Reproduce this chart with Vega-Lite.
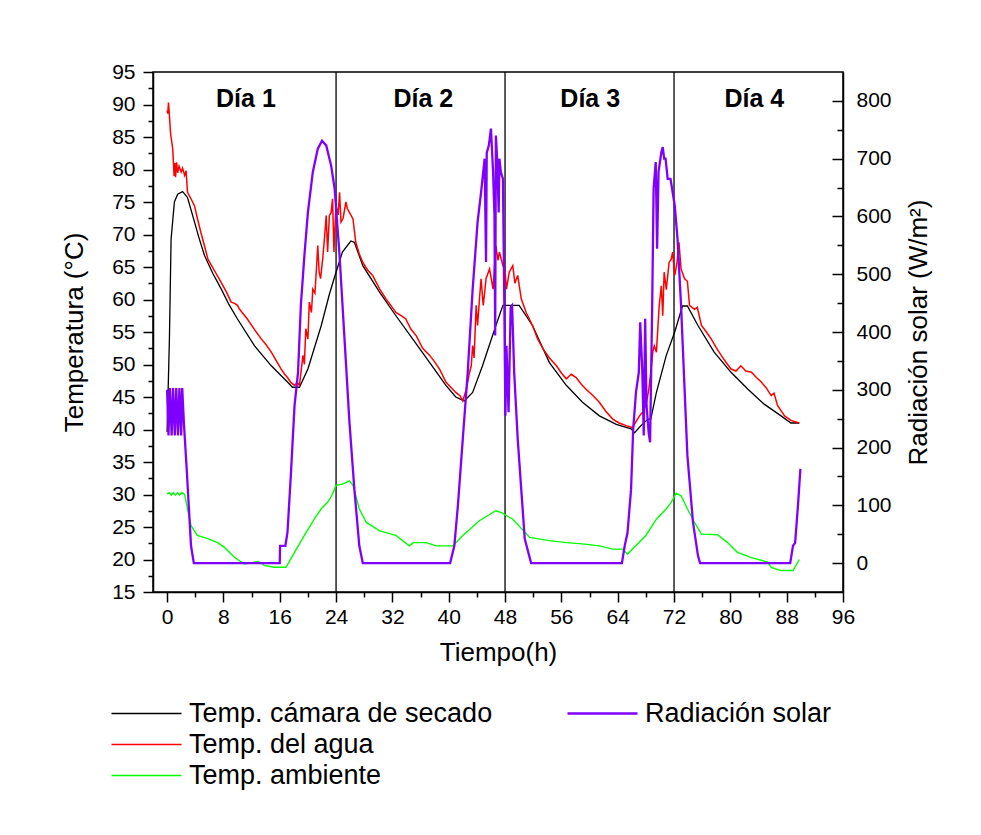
{
  "$schema": "https://vega.github.io/schema/vega-lite/v6.json",
  "width": 690,
  "height": 520,
  "autosize": {"type": "none"},
  "padding": {"left": 153, "top": 72, "right": 138, "bottom": 243},
  "background": "white",
  "config": {
    "font": "Liberation Sans",
    "view": {"stroke": "black", "strokeWidth": 1.5},
    "axis": {"grid": false, "domainColor": "black", "domainWidth": 1.5, "tickColor": "black", "tickWidth": 1.5, "labelColor": "black", "labelFontSize": 21, "labelFont": "Liberation Sans", "titleFont": "Liberation Sans", "titleFontSize": 26, "titleFontWeight": "normal", "titleColor": "black", "labelFlush": false, "labelOverlap": false},
    "legend": {"labelFont": "Liberation Sans", "labelFontSize": 27, "labelColor": "black", "labelLimit": 0, "padding": 0, "symbolType": "M-3.5,0H3.5", "symbolSize": 400, "labelOffset": 29, "rowPadding": 3}
  },
  "datasets": {
    "div": [{"h": 24}, {"h": 48}, {"h": 72}],
    "days": [{"h": 11.2, "v": 90.8, "t": "Día 1"}, {"h": 36.4, "v": 90.8, "t": "Día 2"}, {"h": 60.1, "v": 90.8, "t": "Día 3"}, {"h": 83.4, "v": 90.8, "t": "Día 4"}],
    "cam": [{"h":0,"v":39.6},{"h":0.33,"v":53.9},{"h":0.57,"v":69.3},{"h":1.04,"v":75},{"h":1.5,"v":76.2},{"h":2.2,"v":76.6},{"h":2.9,"v":75.7},{"h":3.9,"v":71.9},{"h":4.5,"v":69.6},{"h":5.3,"v":66.8},{"h":6.5,"v":64.0},{"h":7.7,"v":61.6},{"h":8.8,"v":59.2},{"h":10.0,"v":57.0},{"h":12.4,"v":52.9},{"h":14.8,"v":49.8},{"h":17.1,"v":47.3},{"h":17.8,"v":46.5},{"h":18.8,"v":46.5},{"h":20.0,"v":49.3},{"h":21.9,"v":56.0},{"h":23.05,"v":60.8},{"h":23.8,"v":63.5},{"h":24.9,"v":67.3},{"h":26.1,"v":69.0},{"h":26.6,"v":68.8},{"h":27.8,"v":65.2},{"h":30.2,"v":61.1},{"h":32.5,"v":57.5},{"h":34.9,"v":53.9},{"h":37.3,"v":50.3},{"h":39.6,"v":46.8},{"h":41.0,"v":45.0},{"h":42.2,"v":44.4},{"h":43.4,"v":45.7},{"h":44.8,"v":49.8},{"h":46.7,"v":56.0},{"h":47.7,"v":59.1},{"h":50.0,"v":59.1},{"h":51.9,"v":56.0},{"h":54.3,"v":50.3},{"h":56.7,"v":46.8},{"h":59.0,"v":44.2},{"h":61.4,"v":42.1},{"h":63.8,"v":40.8},{"h":65.9,"v":40.1},{"h":66.4,"v":39.5},{"h":67.3,"v":40.6},{"h":68.3,"v":41.6},{"h":68.7,"v":41.6},{"h":69.5,"v":45.7},{"h":70.9,"v":51.4},{"h":72.1,"v":55.0},{"h":73.2,"v":59.0},{"h":73.9,"v":59.0},{"h":75.4,"v":56.0},{"h":77.7,"v":51.9},{"h":80.1,"v":48.8},{"h":82.5,"v":46.2},{"h":84.8,"v":43.9},{"h":87.2,"v":42.1},{"h":88.6,"v":41.0},{"h":89.8,"v":41.0}],
    "agua": [{"h":0,"v":89.1},{"h":0.1,"v":88.6},{"h":0.2,"v":90.3},{"h":0.3,"v":88.8},{"h":0.5,"v":85.5},{"h":0.8,"v":83.2},{"h":1.0,"v":79.0},{"h":1.1,"v":81.0},{"h":1.2,"v":78.8},{"h":1.35,"v":81.1},{"h":1.5,"v":79.5},{"h":1.7,"v":80.5},{"h":2.0,"v":79.6},{"h":2.2,"v":80.2},{"h":2.5,"v":79.1},{"h":2.7,"v":79.8},{"h":2.9,"v":76.5},{"h":3.4,"v":75.5},{"h":3.9,"v":74.4},{"h":4.3,"v":72.5},{"h":4.8,"v":70.3},{"h":5.3,"v":68.3},{"h":5.8,"v":66.2},{"h":6.7,"v":64.5},{"h":7.7,"v":62.6},{"h":8.4,"v":61.2},{"h":9.1,"v":59.6},{"h":9.6,"v":59.4},{"h":10.0,"v":59.1},{"h":10.3,"v":58.5},{"h":11.4,"v":57.0},{"h":12.4,"v":55.4},{"h":13.4,"v":53.9},{"h":14.1,"v":53.0},{"h":14.8,"v":51.9},{"h":15.5,"v":50.6},{"h":16.2,"v":49.3},{"h":16.7,"v":48.5},{"h":17.1,"v":48.0},{"h":17.6,"v":47.2},{"h":18.1,"v":46.8},{"h":18.5,"v":47.2},{"h":18.8,"v":46.8},{"h":19.3,"v":51.4},{"h":19.5,"v":50.0},{"h":19.7,"v":55.5},{"h":20.0,"v":53.9},{"h":20.2,"v":59.6},{"h":20.5,"v":58.0},{"h":20.7,"v":61.6},{"h":21.0,"v":61.0},{"h":21.2,"v":64.5},{"h":21.4,"v":68.3},{"h":21.6,"v":64.2},{"h":21.8,"v":63.2},{"h":22.1,"v":66.2},{"h":22.4,"v":70.0},{"h":22.6,"v":72.9},{"h":22.8,"v":67.3},{"h":23.05,"v":72.9},{"h":23.3,"v":73.4},{"h":23.5,"v":75.5},{"h":23.7,"v":67.3},{"h":23.8,"v":70.3},{"h":24.0,"v":74.4},{"h":24.3,"v":73.0},{"h":24.5,"v":76.5},{"h":24.7,"v":71.9},{"h":25.0,"v":72.5},{"h":25.4,"v":75.0},{"h":25.6,"v":74.0},{"h":25.9,"v":73.4},{"h":26.4,"v":72.4},{"h":26.8,"v":68.8},{"h":27.3,"v":67.0},{"h":27.8,"v":65.7},{"h":28.5,"v":64.5},{"h":29.2,"v":63.7},{"h":30.2,"v":61.6},{"h":31.1,"v":60.1},{"h":32.5,"v":58.0},{"h":33.4,"v":57.4},{"h":33.9,"v":57.0},{"h":34.6,"v":55.5},{"h":35.4,"v":54.4},{"h":36.3,"v":52.5},{"h":37.3,"v":51.4},{"h":38.0,"v":50.4},{"h":38.7,"v":49.3},{"h":39.6,"v":47.3},{"h":40.3,"v":46.5},{"h":41.0,"v":45.7},{"h":41.6,"v":45.2},{"h":42.0,"v":44.4},{"h":42.5,"v":46.2},{"h":42.9,"v":48.5},{"h":43.2,"v":49.8},{"h":43.4,"v":52.9},{"h":43.6,"v":51.0},{"h":43.9,"v":59.1},{"h":44.1,"v":56.0},{"h":44.4,"v":60.5},{"h":44.6,"v":63.2},{"h":44.9,"v":59.1},{"h":45.1,"v":61.0},{"h":45.3,"v":63.2},{"h":45.8,"v":64.7},{"h":46.3,"v":61.6},{"h":46.5,"v":65.0},{"h":46.7,"v":68.3},{"h":47.0,"v":66.0},{"h":47.2,"v":67.3},{"h":47.7,"v":65.2},{"h":48.0,"v":64.5},{"h":48.2,"v":61.6},{"h":48.6,"v":64.2},{"h":49.1,"v":65.2},{"h":49.4,"v":62.5},{"h":49.8,"v":63.7},{"h":50.3,"v":60.1},{"h":51.0,"v":58.0},{"h":51.9,"v":56.0},{"h":52.6,"v":54.0},{"h":53.4,"v":52.4},{"h":54.3,"v":51.0},{"h":55.3,"v":49.8},{"h":56.0,"v":48.7},{"h":56.7,"v":47.8},{"h":57.4,"v":48.5},{"h":58.1,"v":48.0},{"h":58.8,"v":47.0},{"h":59.5,"v":46.2},{"h":60.4,"v":45.3},{"h":61.4,"v":44.2},{"h":62.3,"v":42.8},{"h":63.3,"v":41.6},{"h":64.2,"v":41.0},{"h":65.2,"v":40.6},{"h":66.1,"v":40.3},{"h":66.6,"v":41.2},{"h":67.1,"v":42.1},{"h":67.5,"v":42.6},{"h":68.0,"v":43.7},{"h":68.4,"v":46.0},{"h":68.7,"v":48.8},{"h":69.0,"v":52.0},{"h":69.2,"v":52.9},{"h":69.5,"v":51.9},{"h":69.9,"v":59.1},{"h":70.2,"v":62.1},{"h":70.4,"v":57.5},{"h":70.6,"v":64.2},{"h":70.9,"v":61.5},{"h":71.3,"v":65.7},{"h":71.6,"v":66.2},{"h":71.8,"v":67.3},{"h":72.1,"v":63.7},{"h":72.4,"v":65.5},{"h":72.7,"v":68.8},{"h":73.0,"v":64.7},{"h":73.5,"v":63.2},{"h":73.9,"v":62.8},{"h":74.2,"v":59.1},{"h":74.9,"v":58.5},{"h":75.3,"v":58.8},{"h":75.9,"v":56.0},{"h":76.6,"v":55.0},{"h":77.3,"v":53.9},{"h":78.0,"v":52.6},{"h":78.7,"v":51.4},{"h":79.4,"v":50.3},{"h":80.1,"v":49.3},{"h":80.8,"v":49.0},{"h":81.5,"v":49.8},{"h":82.2,"v":49.0},{"h":83.0,"v":48.8},{"h":83.7,"v":48.0},{"h":84.4,"v":47.3},{"h":85.1,"v":46.4},{"h":85.8,"v":45.2},{"h":86.2,"v":45.6},{"h":86.7,"v":43.7},{"h":87.2,"v":42.9},{"h":87.7,"v":42.1},{"h":88.1,"v":41.8},{"h":88.6,"v":41.4},{"h":89.2,"v":41.2},{"h":89.8,"v":41.0}],
    "amb": [{"h":0,"v":30.1},{"h":0.3,"v":30.3},{"h":0.6,"v":29.9},{"h":0.9,"v":30.3},{"h":1.2,"v":29.9},{"h":1.5,"v":30.3},{"h":1.8,"v":29.9},{"h":2.1,"v":30.3},{"h":2.5,"v":30.0},{"h":2.9,"v":27.8},{"h":3.4,"v":25.2},{"h":4.3,"v":23.7},{"h":5.8,"v":23.2},{"h":7.2,"v":22.6},{"h":8.1,"v":21.9},{"h":9.6,"v":20.3},{"h":11.0,"v":19.3},{"h":12.4,"v":19.6},{"h":13.0,"v":19.7},{"h":13.8,"v":19.1},{"h":15.2,"v":18.8},{"h":16.9,"v":18.8},{"h":18.1,"v":21.1},{"h":19.5,"v":23.7},{"h":20.9,"v":26.2},{"h":21.9,"v":27.8},{"h":22.8,"v":28.8},{"h":23.2,"v":29.5},{"h":23.5,"v":30.1},{"h":24.0,"v":31.4},{"h":24.9,"v":31.6},{"h":25.9,"v":32.1},{"h":26.4,"v":31.4},{"h":27.3,"v":27.8},{"h":28.3,"v":25.7},{"h":30.2,"v":24.4},{"h":32.5,"v":23.7},{"h":34.4,"v":22.1},{"h":35.0,"v":22.6},{"h":36.8,"v":22.6},{"h":38.2,"v":22.1},{"h":40.6,"v":22.1},{"h":42.0,"v":23.7},{"h":44.4,"v":26.0},{"h":46.7,"v":27.5},{"h":47.5,"v":27.2},{"h":48.6,"v":26.5},{"h":49.1,"v":26.2},{"h":51.5,"v":23.4},{"h":54.3,"v":22.9},{"h":56.7,"v":22.6},{"h":59.0,"v":22.4},{"h":61.4,"v":22.1},{"h":63.3,"v":21.6},{"h":64.7,"v":21.6},{"h":65.4,"v":20.8},{"h":66.1,"v":21.6},{"h":68.0,"v":23.7},{"h":69.5,"v":26.2},{"h":70.9,"v":27.8},{"h":71.6,"v":28.8},{"h":72.3,"v":30.2},{"h":73.0,"v":29.8},{"h":73.9,"v":27.8},{"h":74.9,"v":25.7},{"h":75.9,"v":23.9},{"h":78.2,"v":23.8},{"h":79.6,"v":22.6},{"h":81.0,"v":21.1},{"h":83.0,"v":20.3},{"h":85.3,"v":19.6},{"h":85.8,"v":18.8},{"h":87.2,"v":18.3},{"h":88.9,"v":18.3},{"h":89.8,"v":20.0}],
    "rad": [{"h":0,"v":300},{"h":0.2,"v":221},{"h":0.4,"v":303},{"h":0.65,"v":221},{"h":0.85,"v":303},{"h":1.1,"v":221},{"h":1.3,"v":303},{"h":1.55,"v":221},{"h":1.75,"v":303},{"h":2.0,"v":221},{"h":2.15,"v":303},{"h":2.4,"v":240},{"h":2.8,"v":160},{"h":3.4,"v":30},{"h":3.8,"v":0},{"h":16.0,"v":0},{"h":16.05,"v":30},{"h":16.8,"v":30},{"h":17.1,"v":53},{"h":17.6,"v":157},{"h":18.1,"v":272},{"h":18.6,"v":330},{"h":19.0,"v":446},{"h":19.5,"v":532},{"h":20.0,"v":607},{"h":20.7,"v":677},{"h":21.4,"v":717},{"h":22.0,"v":731},{"h":22.6,"v":723},{"h":23.3,"v":688},{"h":23.8,"v":648},{"h":24.5,"v":532},{"h":25.2,"v":388},{"h":25.9,"v":244},{"h":26.6,"v":128},{"h":27.3,"v":30},{"h":27.8,"v":0},{"h":40.2,"v":0},{"h":40.8,"v":30},{"h":41.3,"v":99},{"h":42.0,"v":215},{"h":42.7,"v":330},{"h":43.4,"v":474},{"h":44.1,"v":590},{"h":44.6,"v":642},{"h":45.1,"v":700},{"h":45.3,"v":521},{"h":45.4,"v":710},{"h":45.7,"v":723},{"h":46.0,"v":752},{"h":46.3,"v":677},{"h":46.5,"v":602},{"h":46.6,"v":394},{"h":46.7,"v":740},{"h":46.9,"v":694},{"h":47.1,"v":607},{"h":47.2,"v":700},{"h":47.4,"v":677},{"h":47.7,"v":665},{"h":47.9,"v":446},{"h":48.05,"v":255},{"h":48.2,"v":376},{"h":48.5,"v":261},{"h":48.8,"v":443},{"h":49.0,"v":446},{"h":49.3,"v":330},{"h":49.8,"v":215},{"h":50.3,"v":128},{"h":50.8,"v":42},{"h":51.7,"v":0},{"h":64.6,"v":0},{"h":65.0,"v":30},{"h":65.4,"v":53},{"h":65.9,"v":128},{"h":66.2,"v":232},{"h":66.6,"v":296},{"h":67.0,"v":330},{"h":67.2,"v":417},{"h":67.5,"v":330},{"h":67.7,"v":221},{"h":67.9,"v":423},{"h":68.1,"v":272},{"h":68.4,"v":226},{"h":68.6,"v":209},{"h":68.9,"v":446},{"h":69.1,"v":648},{"h":69.4,"v":694},{"h":69.6,"v":544},{"h":69.8,"v":677},{"h":70.2,"v":711},{"h":70.4,"v":720},{"h":70.6,"v":700},{"h":70.8,"v":700},{"h":71.1,"v":665},{"h":71.5,"v":665},{"h":72.1,"v":619},{"h":72.5,"v":561},{"h":73.0,"v":446},{"h":73.5,"v":301},{"h":73.9,"v":186},{"h":74.7,"v":70},{"h":75.4,"v":13},{"h":75.7,"v":0},{"h":88.5,"v":0},{"h":88.9,"v":30},{"h":89.2,"v":35},{"h":89.6,"v":99},{"h":89.95,"v":163}]
  },
  "layer": [
    {
      "data": {"name": "div"},
      "mark": {"type": "rule", "color": "black", "strokeWidth": 1.3},
      "encoding": {
        "x": {"field": "h", "type": "quantitative", "scale": {"domain": [-2, 96], "nice": false, "zero": false}, "axis": null}
      }
    },
    {
      "data": {"name": "cam"},
      "mark": {"type": "line", "strokeWidth": 1.3},
      "encoding": {
        "x": {"field": "h", "type": "quantitative", "scale": {"domain": [-2, 96], "nice": false, "zero": false},
              "axis": {"orient": "bottom", "values": [0,8,16,24,32,40,48,56,64,72,80,88,96], "tickSize": 10, "labelPadding": 4, "title": "Tiempo(h)", "titlePadding": 12}},
        "y": {"field": "v", "type": "quantitative", "scale": {"domain": [15, 95], "nice": false, "zero": false},
              "axis": {"orient": "left", "values": [15,20,25,30,35,40,45,50,55,60,65,70,75,80,85,90,95], "tickSize": 10, "labelPadding": 8, "title": "Temperatura (°C)", "titlePadding": 24}},
        "color": {"datum": "Temp. cámara de secado", "type": "nominal",
                  "scale": {"domain": ["Temp. cámara de secado", "Temp. del agua", "Temp. ambiente"], "range": ["#000000", "#ff0000", "#00ff00"]},
                  "legend": {"orient": "none", "legendX": -20, "legendY": 628, "title": null, "direction": "vertical", "symbolStrokeWidth": 1.5}}
      }
    },
    {
      "data": {"name": "agua"},
      "mark": {"type": "line", "strokeWidth": 1.5},
      "encoding": {
        "x": {"field": "h", "type": "quantitative", "scale": {"domain": [-2, 96], "nice": false, "zero": false}, "axis": null},
        "y": {"field": "v", "type": "quantitative", "scale": {"domain": [15, 95], "nice": false, "zero": false}, "axis": null},
        "color": {"datum": "Temp. del agua", "type": "nominal"}
      }
    },
    {
      "data": {"name": "amb"},
      "mark": {"type": "line", "strokeWidth": 1.4},
      "encoding": {
        "x": {"field": "h", "type": "quantitative", "scale": {"domain": [-2, 96], "nice": false, "zero": false}, "axis": null},
        "y": {"field": "v", "type": "quantitative", "scale": {"domain": [15, 95], "nice": false, "zero": false}, "axis": null},
        "color": {"datum": "Temp. ambiente", "type": "nominal"}
      }
    },
    {
      "data": {"name": "days"},
      "mark": {"type": "text", "font": "Liberation Sans", "fontWeight": "bold", "fontSize": 25, "color": "black", "align": "center", "baseline": "middle"},
      "encoding": {
        "x": {"field": "h", "type": "quantitative", "scale": {"domain": [-2, 96], "nice": false, "zero": false},
              "axis": {"orient": "bottom", "values": [4,12,20,28,36,44,52,60,68,76,84,92], "tickSize": 5, "labels": false, "domain": false, "title": null}},
        "y": {"field": "v", "type": "quantitative", "scale": {"domain": [15, 95], "nice": false, "zero": false},
              "axis": {"orient": "left", "values": [17.5,22.5,27.5,32.5,37.5,42.5,47.5,52.5,57.5,62.5,67.5,72.5,77.5,82.5,87.5,92.5], "tickSize": 5, "labels": false, "domain": false, "title": null}},
        "text": {"field": "t"}
      }
    },
    {
      "data": {"name": "rad"},
      "mark": {"type": "line", "strokeWidth": 2.3},
      "encoding": {
        "x": {"field": "h", "type": "quantitative", "scale": {"domain": [-2, 96], "nice": false, "zero": false}, "axis": null},
        "y": {"field": "v", "type": "quantitative", "scale": {"domain": [-50, 850], "nice": false, "zero": false},
              "axis": {"orient": "right", "values": [0,100,200,300,400,500,600,700,800], "tickSize": -11, "labelPadding": 24, "title": "Radiación solar (W/m²)", "titleAngle": 270, "titlePadding": 40}},
        "stroke": {"datum": "Radiación solar", "type": "nominal",
                   "scale": {"domain": ["Radiación solar"], "range": ["#8000ff"]},
                   "legend": {"orient": "none", "legendX": 436, "legendY": 628, "title": null, "symbolStrokeWidth": 2.5}}
      }
    },
    {
      "data": {"name": "rad"},
      "mark": {"type": "line", "opacity": 0},
      "encoding": {
        "x": {"field": "h", "type": "quantitative", "scale": {"domain": [-2, 96], "nice": false, "zero": false}, "axis": null},
        "y": {"field": "v", "type": "quantitative", "scale": {"domain": [-50, 850], "nice": false, "zero": false},
              "axis": {"orient": "right", "values": [50,150,250,350,450,550,650,750], "tickSize": -6, "labels": false, "domain": false, "title": null}}
      }
    }
  ],
  "resolve": {"scale": {"y": "independent"}, "axis": {"x": "independent", "y": "independent"}}
}
